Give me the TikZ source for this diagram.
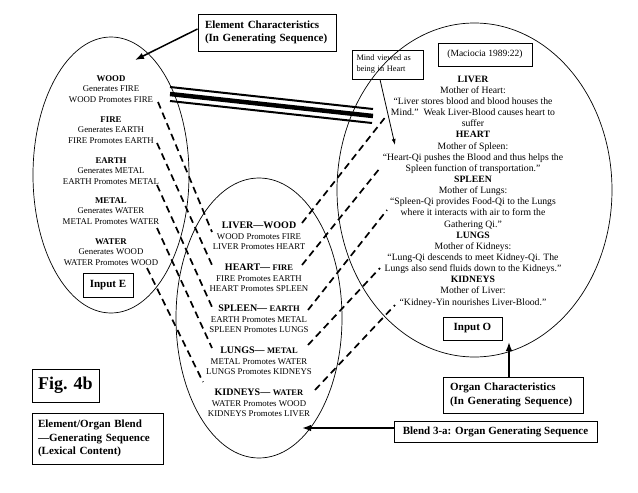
\documentclass[tikz,border=0pt]{standalone}
\usepackage{fontspec}
\setmainfont{Liberation Serif}
\usetikzlibrary{shapes.geometric,arrows.meta}
\begin{document}
\begin{tikzpicture}[x=1pt,y=-1pt,
  oval/.style={draw, ellipse, line width=0.7pt, inner sep=0pt},
  box/.style={draw, line width=1pt, inner sep=0pt, rectangle},
  smalltxt/.style={align=center, inner sep=0pt, font=\fontsize{8.8}{10.3}\selectfont},
  bigtxt/.style={align=center, inner sep=0pt, font=\fontsize{9.7}{11.15}\selectfont},
  btxt/.style={align=left, inner sep=0pt, font=\fontsize{11}{13.3}\selectfont\bfseries},
  map/.style={line width=1.7pt, dash pattern=on 7pt off 4.5pt},
  bigarrow/.style={line width=1.5pt, -{Latex[length=9pt,width=6.5pt]}},
  thinarrow/.style={line width=0.8pt, -{Latex[length=6pt,width=4pt]}}
]
\useasboundingbox (0,0) rectangle (638,493);

% ellipses
\node[oval, minimum width=156pt, minimum height=276pt] (inE) at (111,175) {};
\node[oval, minimum width=166pt, minimum height=280pt] (blend) at (259,318) {};
\node[oval, minimum width=275pt, minimum height=334pt] (inO) at (474.5,190) {};

% left texts
\node[smalltxt] (e1) at (111,89) {\textbf{WOOD}\\Generates FIRE\\WOOD Promotes FIRE};
\node[smalltxt] (e2) at (111,130) {\textbf{FIRE}\\Generates EARTH\\FIRE Promotes EARTH};
\node[smalltxt] (e3) at (111,171) {\textbf{EARTH}\\Generates METAL\\EARTH Promotes METAL};
\node[smalltxt] (e4) at (111,211) {\textbf{METAL}\\Generates WATER\\METAL Promotes WATER};
\node[smalltxt] (e5) at (111,252) {\textbf{WATER}\\Generates WOOD\\WATER Promotes WOOD};

% middle texts
\node[smalltxt] (b1) at (259,236) {{\bfseries\fontsize{10}{10.3}\selectfont LIVER—WOOD}\\WOOD Promotes FIRE\\LIVER Promotes HEART};
\node[smalltxt] (b2) at (259,278) {{\bfseries\fontsize{10}{10.3}\selectfont HEART— {\fontsize{8.5}{10.3}\selectfont FIRE}}\\FIRE Promotes EARTH\\HEART Promotes SPLEEN};
\node[smalltxt] (b3) at (259,319) {{\bfseries\fontsize{10}{10.3}\selectfont SPLEEN— {\fontsize{8.5}{10.3}\selectfont EARTH}}\\EARTH Promotes METAL\\SPLEEN Promotes LUNGS};
\node[smalltxt] (b4) at (259,361) {{\bfseries\fontsize{10}{10.3}\selectfont LUNGS— {\fontsize{8.5}{10.3}\selectfont METAL}}\\METAL Promotes WATER\\LUNGS Promotes KIDNEYS};
\node[smalltxt] (b5) at (259,403) {{\bfseries\fontsize{10}{10.3}\selectfont KIDNEYS— {\fontsize{8.5}{10.3}\selectfont WATER}}\\WATER Promotes WOOD\\KIDNEYS Promotes LIVER};

% right text
\node[bigtxt] (o1) at (473,191.5) {\textbf{LIVER}\\Mother of Heart:\\“Liver stores blood and blood houses the\\Mind.”\ \ Weak Liver-Blood causes heart to\\suffer\\\textbf{HEART}\\Mother of Spleen:\\“Heart-Qi pushes the Blood and thus helps the\\Spleen function of transportation.”\\\textbf{SPLEEN}\\Mother of Lungs:\\“Spleen-Qi provides Food-Qi to the Lungs\\where it interacts with air to form the\\Gathering Qi.”\\\textbf{LUNGS}\\Mother of Kidneys:\\“Lung-Qi descends to meet Kidney-Qi. The\\Lungs also send fluids down to the Kidneys.”\\\textbf{KIDNEYS}\\Mother of Liver:\\“Kidney-Yin nourishes Liver-Blood.”};

% boxes
\node[box, minimum width=138pt, minimum height=37pt, text width=124pt, align=left, font=\fontsize{11}{13.3}\selectfont\bfseries] (echar) at (267,32.5) {Element Characteristics\\(In Generating Sequence)};
\node[box, minimum width=71pt, minimum height=29pt, text width=62pt, align=left, font=\fontsize{8.3}{11}\selectfont] (mind) at (387.5,64.5) {Mind viewed as\\being in Heart};
\node[box, minimum width=94pt, minimum height=23pt, font=\fontsize{9.5}{11}\selectfont] (mac) at (485,54.5) {(Maciocia 1989:22)};
\node[box, minimum width=50pt, minimum height=24pt, font=\fontsize{11}{13}\selectfont\bfseries] (ine) at (108,285) {Input E};
\node[box, minimum width=59pt, minimum height=23pt, font=\fontsize{11}{13}\selectfont\bfseries] (ino) at (472.5,328.5) {Input O};
\node[box, minimum width=140pt, minimum height=36pt, text width=126pt, align=left, font=\fontsize{11}{13.3}\selectfont\bfseries] (ochar) at (513,395) {Organ Characteristics\\(In Generating Sequence)};
\node[box, minimum width=203pt, minimum height=21pt, font=\fontsize{11}{13}\selectfont\bfseries] (bl3) at (495.5,431.5) {Blend 3-a: Organ Generating Sequence};
\node[box, minimum width=67pt, minimum height=33pt, font=\fontsize{18}{20}\selectfont\bfseries] (fig) at (65.5,385.5) {Fig. 4b};
\node[box, minimum width=131pt, minimum height=51pt, text width=119pt, align=left, font=\fontsize{11}{13.3}\selectfont\bfseries] (eob) at (97.5,438.5) {Element/Organ Blend\\—Generating Sequence\\(Lexical Content)};

% arrows
\coordinate (echarT) at (135,60);
\draw[bigarrow] (echar.west |- 0,29) -- (echarT);
\coordinate (mindT) at (395,145);
\draw[thinarrow] (mind.south -| 380,0) -- (mindT);
\coordinate (ocharT) at (509,342);
\draw[bigarrow] (ochar.north -| 509,0) -- (ocharT);
\coordinate (bl3T) at (302,428);
\draw[bigarrow] (bl3.west |- 0,428) -- (bl3T);

% triple line
\coordinate (tA1) at (170,87);  \coordinate (tB1) at (373,109);
\coordinate (tA2) at (170,94);  \coordinate (tB2) at (373,116);
\coordinate (tA3) at (170,101); \coordinate (tB3) at (372,123);
\draw[line width=2pt] (tA1) -- (tB1);
\draw[line width=4.5pt] (tA2) -- (tB2);
\draw[line width=2pt] (tA3) -- (tB3);

% dashed mappings left
\coordinate (l1a) at (158,102); \coordinate (l1b) at (212,232);
\coordinate (l2a) at (157,143); \coordinate (l2b) at (212,265);
\coordinate (l3a) at (157,185); \coordinate (l3b) at (212,307);
\coordinate (l4a) at (157,228); \coordinate (l4b) at (212,348);
\coordinate (l5a) at (147,268); \coordinate (l5b) at (203,382);
\foreach \i in {1,...,5} {\draw[map] (l\i a) -- (l\i b);}

% dashed mappings right
\coordinate (r1a) at (302,223); \coordinate (r1b) at (387,115);
\coordinate (r2a) at (302,265); \coordinate (r2b) at (380,168);
\coordinate (r3a) at (308,310); \coordinate (r3b) at (387,210);
\coordinate (r4a) at (308,345); \coordinate (r4b) at (380,268);
\coordinate (r5a) at (315,390); \coordinate (r5b) at (395,305);
\foreach \i in {1,...,5} {\draw[map] (r\i a) -- (r\i b);}
\end{tikzpicture}
\end{document}
